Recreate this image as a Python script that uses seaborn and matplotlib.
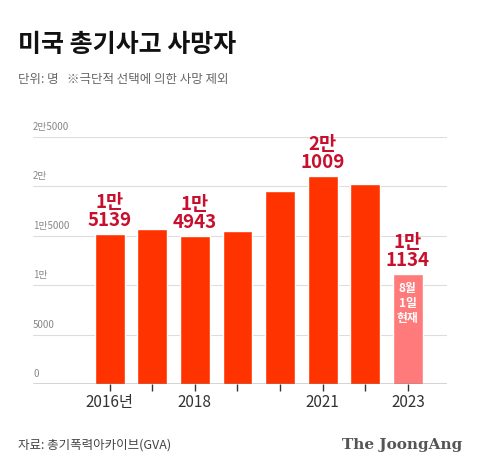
import matplotlib
matplotlib.use("Agg")
import matplotlib.pyplot as plt
import seaborn as sns
import pandas as pd

years = [2016, 2017, 2018, 2019, 2020, 2021, 2022, 2023]
deaths = [15139, 15711, 14943, 15476, 19521, 21009, 20196, 11134]
xlabels = ["2016년", "", "2018", "", "", "2021", "", "2023"]
value_labels = {0: "1만\n5139", 2: "1만\n4943", 5: "2만\n1009", 7: "1만\n1134"}
yticks = [0, 5000, 10000, 15000, 20000, 25000]
ytick_labels = ["0", "5000", "1만", "1만5000", "2만", "2만5000"]

sns.set_theme(style="white")
plt.rcParams['font.family'] = ['Noto Sans CJK KR', 'DejaVu Sans']

df = pd.DataFrame({"year": [str(y) for y in years], "deaths": deaths})
colors = ["#ff3300"] * 7 + ["#ff7b7b"]

fig = plt.figure(figsize=(4.8, 4.75), dpi=100)
ax = fig.add_axes([33/480, 1-384/475, 414/480, (384-137)/475])
sns.barplot(data=df, x="year", y="deaths", hue="year", palette=colors, legend=False,
            width=0.7, saturation=1, ax=ax)
ax.set_xlim(-1.8, 7.92)
ax.set_ylim(0, 25000)
ax.set_yticks(yticks)
ax.set_yticklabels([])
for v, l in zip(yticks, ytick_labels):
    ax.axhline(v, color="#dddddd", lw=0.8, zorder=0)
    ax.text(-1.8, v + 500, l, fontsize=7, color="#888888", va="bottom", ha="left")
ax.axhline(0, color="#333333", lw=1, zorder=3)
ax.set_xticks(range(len(years)))
ax.set_xticklabels(xlabels, fontsize=11, color="#333333")
ax.tick_params(axis="x", length=5, width=1, color="#333333", pad=2, direction="out", bottom=True)
ax.tick_params(axis="y", length=0)
ax.set_xlabel(""); ax.set_ylabel("")
for s in ax.spines.values():
    s.set_visible(False)
for i, l in value_labels.items():
    ax.text(i, deaths[i] + 400, l, ha="center", va="bottom", fontsize=13.5, fontweight="bold",
            color="#c8102e", linespacing=0.95)
ax.text(7, deaths[7] - 800, "8월\n1일\n현재", ha="center", va="top", fontsize=8.5,
        color="white", fontweight="bold", linespacing=1.2)

fig.text(18/480, 1-45/475, "미국 총기사고 사망자", fontsize=18, fontweight="bold", color="#111111", va="center")
fig.text(18/480, 1-80/475, "단위: 명   ※극단적 선택에 의한 사망 제외", fontsize=9, color="#666666", va="center")
fig.text(18/480, 1-445/475, "자료: 총기폭력아카이브(GVA)", fontsize=9, color="#444444", va="center")
fig.text(462/480, 1-445/475, "The JoongAng", fontsize=11, fontweight="bold", color="#555555",
         va="center", ha="right", family="DejaVu Serif")
fig.savefig("out.png", dpi=100)
